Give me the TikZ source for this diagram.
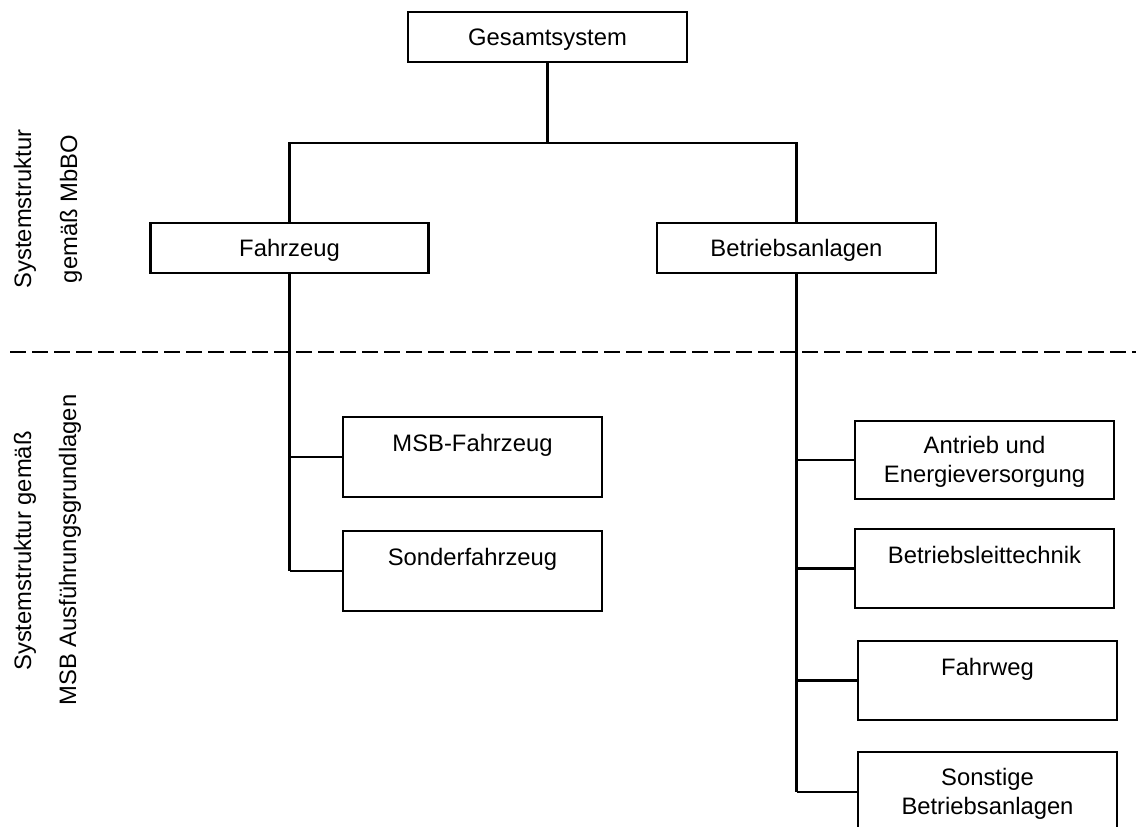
\documentclass[tikz,border=0pt]{standalone}
\usepackage{fontspec}
\setmainfont{Liberation Sans}
\usetikzlibrary{calc}
\tikzset{
  box/.style={draw=black, line width=2.2pt, inner sep=0pt, fill=white},
  lbl/.style={anchor=base, inner sep=0pt, font=\fontsize{23.8}{29}\selectfont},
  side/.style={rotate=90, anchor=center, inner sep=0pt, font=\fontsize{23.8}{29}\selectfont},
  conn/.style={draw=black, line width=2.2pt},
}
\begin{document}
\begin{tikzpicture}[x=1pt,y=-1pt]
\useasboundingbox (0,0) rectangle (1136,827);
% boxes
\node[box, minimum width=279pt, minimum height=50pt] (g) at (547.5,36.7) {};
\node[box, minimum width=278pt, minimum height=50pt] (fz) at (289.5,248.3) {};
\node[box, minimum width=279pt, minimum height=50pt] (ba) at (796.5,248.3) {};
\node[box, minimum width=259pt, minimum height=80pt] (msb) at (472.5,457) {};
\node[box, minimum width=259pt, minimum height=80pt] (sf) at (472.5,571) {};
\node[box, minimum width=259pt, minimum height=78pt] (ae) at (984.5,460) {};
\node[box, minimum width=259pt, minimum height=79pt] (bl) at (984.5,568.5) {};
\node[box, minimum width=259pt, minimum height=79pt] (fw) at (987.5,680.5) {};
\node[box, minimum width=259pt, minimum height=80pt] (so) at (987.5,792) {};
% labels
\node[lbl] (gt) at ($(g.center)+(0,8.5)$) {Gesamtsystem};
\node[lbl] (fzt) at ($(fz.center)+(0,8.5)$) {Fahrzeug};
\node[lbl] (bat) at ($(ba.center)+(0,8.5)$) {Betriebsanlagen};
\node[lbl] (msbt) at ($(msb.center)+(0,-5.5)$) {MSB-Fahrzeug};
\node[lbl] (sft) at ($(sf.center)+(0,-5.5)$) {Sonderfahrzeug};
\node[lbl] (aet1) at ($(ae.center)+(0,-6.5)$) {Antrieb und};
\node[lbl] (aet2) at ($(ae.center)+(0,22.5)$) {Energieversorgung};
\node[lbl] (blt) at ($(bl.center)+(0,-5.5)$) {Betriebsleittechnik};
\node[lbl] (fwt) at ($(fw.center)+(0,-5.5)$) {Fahrweg};
\node[lbl] (sot1) at ($(so.center)+(0,-6.5)$) {Sonstige};
\node[lbl] (sot2) at ($(so.center)+(0,22.5)$) {Betriebsanlagen};
% side labels
\node[side] (s1) at (25,209) {Systemstruktur};
\node[side] (s2) at (71,209) {gemäß MbBO};
\node[side] (s3) at (25,551) {Systemstruktur gemäß};
\node[side] (s4) at (70,550) {MSB Ausführungsgrundlagen};
% connectors
\coordinate (hj) at (g.south |- 0,142.7);
\draw[conn] (g.south) -- (hj);
\draw[conn] (fz.north) |- (hj) -| (ba.north);
\coordinate (fzend) at (fz.south |- sf.west);
\coordinate (baend) at (ba.south |- so.west);
\draw[conn] (fz.south) -- (fzend);
\draw[conn] (fz.south |- msb.west) -- (msb.west);
\draw[conn] (fzend) -- (sf.west);
\draw[conn] (ba.south) -- (baend);
\draw[conn] (ba.south |- ae.west) -- (ae.west);
\draw[conn] (ba.south |- bl.west) -- (bl.west);
\draw[conn] (ba.south |- fw.west) -- (fw.west);
\draw[conn] (baend) -- (so.west);
% dashed separator
\coordinate (dl) at (10,352);
\coordinate (dr) at (1136,352);
\draw[line width=2.3pt, dash pattern=on 16pt off 6pt] (dl) -- (dr);
\end{tikzpicture}
\end{document}
